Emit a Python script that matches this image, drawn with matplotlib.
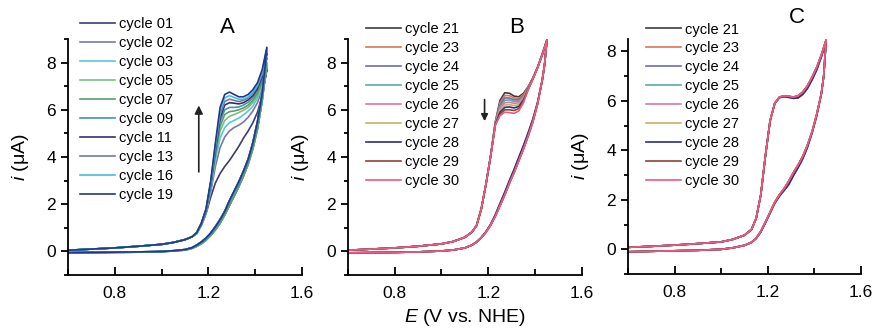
import numpy as np
import matplotlib
matplotlib.use("Agg")
import matplotlib.pyplot as plt
from matplotlib.ticker import MultipleLocator

plt.rcParams['font.family'] = ['Liberation Sans', 'DejaVu Sans']
plt.rcParams['mathtext.fontset'] = 'custom'
plt.rcParams['mathtext.it'] = 'Liberation Sans:italic'
plt.rcParams['mathtext.rm'] = 'Liberation Sans'

# potentials (V vs. NHE), forward scan and reverse scan
E_fwd = [0.60, 0.70, 0.80, 0.90, 1.00, 1.05, 1.10, 1.13, 1.15, 1.17, 1.19, 1.21,
         1.23, 1.25, 1.27, 1.29, 1.31, 1.33, 1.35, 1.37, 1.39, 1.41, 1.43, 1.45]
E_rev = [1.44, 1.43, 1.41, 1.39, 1.37, 1.35, 1.33, 1.31, 1.29, 1.27, 1.25, 1.23,
         1.21, 1.19, 1.17, 1.15, 1.13, 1.10, 1.05, 1.00, 0.90, 0.80, 0.70, 0.60]

# ---- panel A ----
a_labels = ["cycle 01", "cycle 02", "cycle 03", "cycle 05", "cycle 07",
            "cycle 09", "cycle 11", "cycle 13", "cycle 16", "cycle 19"]
a_colors = ["#3d3d72", "#7878aa", "#5cc6dc", "#78c07c", "#5f9a6c",
            "#3f9a9c", "#382f66", "#7676ac", "#46bede", "#223888"]
a_fwd_low = [0.05, 0.10, 0.15, 0.22, 0.30, 0.38, 0.50, 0.62]   # 0.60 .. 1.13
a_fwd_high = [  # 1.15 .. 1.45
    [0.75, 1.10, 1.60, 2.30, 2.90, 3.30, 3.60, 3.85, 4.15, 4.45, 4.80, 5.10, 5.45, 5.90, 6.60, 7.70],
    [0.76, 1.12, 1.62, 2.50, 3.60, 4.40, 4.85, 5.10, 5.25, 5.35, 5.48, 5.68, 5.95, 6.30, 6.90, 7.80],
    [0.76, 1.13, 1.65, 2.62, 3.85, 4.80, 5.25, 5.45, 5.55, 5.65, 5.78, 5.95, 6.15, 6.50, 7.00, 7.90],
    [0.77, 1.15, 1.68, 2.70, 4.00, 5.10, 5.55, 5.72, 5.80, 5.88, 5.98, 6.10, 6.30, 6.60, 7.10, 7.90],
    [0.78, 1.15, 1.70, 2.75, 4.10, 5.30, 5.80, 5.92, 5.95, 6.00, 6.08, 6.20, 6.40, 6.70, 7.20, 8.00],
    [0.78, 1.17, 1.72, 2.80, 4.20, 5.50, 6.00, 6.10, 6.10, 6.12, 6.20, 6.32, 6.50, 6.80, 7.30, 8.20],
    [0.80, 1.18, 1.75, 2.85, 4.30, 5.65, 6.20, 6.30, 6.28, 6.25, 6.30, 6.42, 6.60, 6.90, 7.40, 8.40],
    [0.80, 1.20, 1.78, 2.90, 4.40, 5.80, 6.35, 6.45, 6.40, 6.35, 6.40, 6.50, 6.70, 7.00, 7.50, 8.50],
    [0.80, 1.20, 1.80, 2.95, 4.50, 5.95, 6.50, 6.60, 6.52, 6.45, 6.45, 6.55, 6.75, 7.05, 7.60, 8.60],
    [0.80, 1.20, 1.80, 3.00, 4.60, 6.10, 6.65, 6.75, 6.65, 6.55, 6.55, 6.65, 6.85, 7.15, 7.70, 8.65],
]
a_rev_early = [7.20, 6.40, 5.20, 4.35, 3.70, 3.20, 2.75, 2.35, 1.95, 1.55, 1.20, 0.92,
               0.68, 0.48, 0.33, 0.22, 0.13, 0.06, 0.02, -0.01, -0.03, -0.04, -0.05, -0.06]
a_rev_late = [7.60, 6.70, 5.50, 4.60, 3.90, 3.40, 2.95, 2.55, 2.15, 1.70, 1.35, 1.05,
              0.78, 0.57, 0.40, 0.27, 0.16, 0.08, 0.03, 0.00, -0.02, -0.03, -0.04, -0.05]

# ---- panels B and C ----
bc_labels = ["cycle 21", "cycle 23", "cycle 24", "cycle 25", "cycle 26",
             "cycle 27", "cycle 28", "cycle 29", "cycle 30"]
bc_colors = ["#3a3a3a", "#e4714f", "#6b6bbb", "#5aaaa2", "#e474a6",
             "#c4b462", "#2e2e82", "#8e4230", "#f05a80"]

b_fwd_low = [0.05, 0.10, 0.15, 0.22, 0.32, 0.42, 0.60, 0.82, 1.10, 1.80, 2.85, 4.05]  # 0.60 .. 1.21
b_fwd_high = [  # 1.23 .. 1.45
    [5.50, 6.40, 6.72, 6.70, 6.58, 6.55, 6.70, 6.98, 7.35, 7.80, 8.35, 8.95],
    [5.48, 6.30, 6.60, 6.60, 6.50, 6.48, 6.65, 6.95, 7.34, 7.80, 8.35, 8.95],
    [5.46, 6.20, 6.50, 6.50, 6.42, 6.42, 6.60, 6.93, 7.33, 7.79, 8.34, 8.95],
    [5.44, 6.12, 6.40, 6.42, 6.35, 6.36, 6.56, 6.92, 7.32, 7.79, 8.34, 8.95],
    [5.42, 6.05, 6.30, 6.32, 6.27, 6.30, 6.52, 6.90, 7.32, 7.78, 8.34, 8.95],
    [5.40, 5.98, 6.20, 6.22, 6.18, 6.22, 6.47, 6.88, 7.31, 7.78, 8.34, 8.95],
    [5.38, 5.90, 6.10, 6.12, 6.08, 6.14, 6.42, 6.87, 7.31, 7.78, 8.33, 8.95],
    [5.37, 5.82, 6.00, 6.00, 5.97, 6.05, 6.36, 6.86, 7.30, 7.78, 8.33, 8.95],
    [5.35, 5.75, 5.90, 5.88, 5.85, 5.95, 6.30, 6.85, 7.30, 7.78, 8.33, 8.95],
]
b_rev = [7.90, 7.25, 6.25, 5.50, 4.90, 4.35, 3.85, 3.35, 2.90, 2.40, 1.95, 1.50,
         1.12, 0.82, 0.58, 0.40, 0.27, 0.15, 0.06, 0.02, -0.02, -0.04, -0.05, -0.06]
b_rev_blue = [7.90, 7.25, 6.30, 5.60, 5.02, 4.48, 3.98, 3.47, 3.00, 2.50, 2.03, 1.56,
              1.15, 0.84, 0.59, 0.40, 0.27, 0.15, 0.06, 0.02, -0.02, -0.04, -0.05, -0.06]
b_blue_cycles = ["cycle 24", "cycle 28"]

c_fwd = [0.08, 0.12, 0.17, 0.23, 0.30, 0.40, 0.57, 0.80, 1.25, 2.20, 3.80, 5.20,
         5.90, 6.15, 6.20, 6.18, 6.15, 6.20, 6.35, 6.60, 6.95, 7.35, 7.85, 8.45]
c_rev = [7.00, 6.30, 5.45, 4.75, 4.20, 3.75, 3.40, 3.10, 2.75, 2.45, 2.20, 1.90,
         1.50, 1.10, 0.72, 0.45, 0.28, 0.16, 0.06, 0.00, -0.04, -0.06, -0.08, -0.10]
c_fwd_blue = [0.08, 0.12, 0.17, 0.23, 0.30, 0.40, 0.57, 0.80, 1.25, 2.20, 3.80, 5.20,
              5.90, 6.13, 6.17, 6.14, 6.10, 6.12, 6.26, 6.50, 6.85, 7.25, 7.78, 8.40]
c_rev_blue = [7.00, 6.30, 5.40, 4.70, 4.12, 3.66, 3.30, 2.98, 2.62, 2.38, 2.15, 1.86,
              1.47, 1.07, 0.70, 0.44, 0.28, 0.16, 0.06, 0.00, -0.04, -0.06, -0.08, -0.10]


def style_axis(ax, ytop):
    ax.set_xlim(0.6, 1.6)
    ax.set_ylim(-1, ytop)
    ax.spines['top'].set_visible(False)
    ax.spines['right'].set_visible(False)
    for s in ['left', 'bottom']:
        ax.spines[s].set_linewidth(1.3)
    ax.xaxis.set_minor_locator(MultipleLocator(0.2))
    ax.set_xticks([0.8, 1.2, 1.6])
    ax.yaxis.set_minor_locator(MultipleLocator(1))
    ax.set_yticks([0, 2, 4, 6, 8])
    ax.tick_params(axis='x', which='both', direction='in', labelsize=12.5, pad=8)
    ax.tick_params(axis='x', which='major', length=6, width=1.3)
    ax.tick_params(axis='x', which='minor', length=4, width=1.3)
    ax.tick_params(axis='y', which='both', direction='out', labelsize=12.5)
    ax.tick_params(axis='y', which='major', length=5, width=1.3)
    ax.tick_params(axis='y', which='minor', length=3, width=1.3)
    ax.set_ylabel(r'$i$ (μA)', fontsize=14, labelpad=11)


def add_legend(ax, x, y):
    ax.legend(loc='upper left', bbox_to_anchor=(x, y), frameon=False, fontsize=10.5,
              handlelength=2.4, handletextpad=0.3, labelspacing=0.34,
              borderpad=0, borderaxespad=0)


fig = plt.figure(figsize=(8.75, 3.33), dpi=100)
ax_a = fig.add_axes([0.0777, 0.174, 0.2674, 0.709])
ax_b = fig.add_axes([0.3974, 0.174, 0.2678, 0.709])
ax_c = fig.add_axes([0.7177, 0.177, 0.2663, 0.706])

# panel A
for k, lab in enumerate(a_labels):
    fwd = a_fwd_low + a_fwd_high[k]
    rev = a_rev_early if k < 5 else a_rev_late
    ax_a.plot(E_fwd + E_rev, fwd + rev, color=a_colors[k], lw=1.2, label=lab)
style_axis(ax_a, 9)
add_legend(ax_a, 0.051, 1.093)
ax_a.annotate('', xy=(1.159, 6.3), xytext=(1.159, 3.25),
              arrowprops=dict(arrowstyle='-|>', color='#222222', lw=1.2, mutation_scale=12))
ax_a.text(0.68, 1.05, 'A', transform=ax_a.transAxes, fontsize=16, ha='center', va='center')

# panel B
for k, lab in enumerate(bc_labels):
    fwd = b_fwd_low + b_fwd_high[k]
    rev = b_rev_blue if lab in b_blue_cycles else b_rev
    ax_b.plot(E_fwd + E_rev, fwd + rev, color=bc_colors[k], lw=1.2, label=lab)
style_axis(ax_b, 9)
add_legend(ax_b, 0.078, 1.07)
ax_b.annotate('', xy=(1.184, 5.4), xytext=(1.184, 6.55),
              arrowprops=dict(arrowstyle='-|>', color='#222222', lw=1.2, mutation_scale=10))
ax_b.text(0.72, 1.05, 'B', transform=ax_b.transAxes, fontsize=16, ha='center', va='center')
ax_b.set_xlabel(r'$E$ (V vs. NHE)', fontsize=14, labelpad=4)

# panel C
for k, lab in enumerate(bc_labels):
    if lab in b_blue_cycles:
        fwd, rev = c_fwd_blue, c_rev_blue
    else:
        fwd, rev = c_fwd, c_rev
    ax_c.plot(E_fwd + E_rev, fwd + rev, color=bc_colors[k], lw=1.2, label=lab)
style_axis(ax_c, 8.5)
add_legend(ax_c, 0.077, 1.07)
ax_c.text(0.724, 1.09, 'C', transform=ax_c.transAxes, fontsize=16, ha='center', va='center')

fig.savefig("out.png", dpi=100)
